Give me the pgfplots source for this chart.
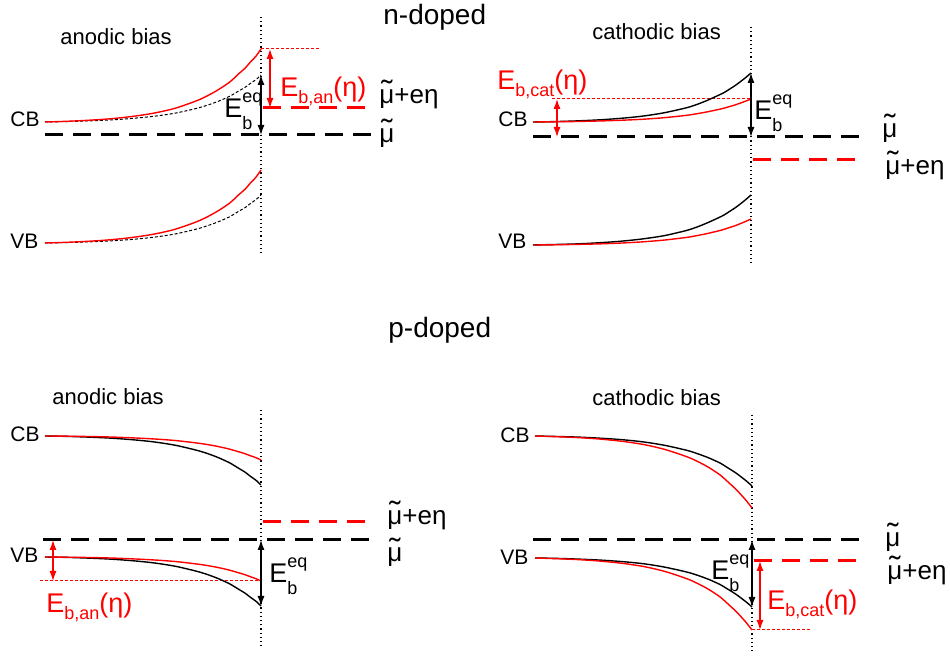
\documentclass[border=0pt]{standalone}
\usepackage{pgfplots}
\pgfplotsset{compat=1.18}
\usepackage{graphicx}
\usepackage{fontspec}
\setmainfont{Liberation Sans}
\usetikzlibrary{arrows.meta}
\newcommand{\mut}{\ooalign{μ\cr\hidewidth\raisebox{1pt}{\scalebox{1.3}[1.15]{˜}}\hidewidth\cr}}
\newcommand{\fs}[1]{\fontsize{#1}{#1}\selectfont}
\newcommand{\Ebeq}{E\rlap{\raisebox{7.5pt}{\fs{9pt}eq}}\raisebox{-6pt}{\fs{9pt}b}}
\newcommand{\Eb}[1]{E\raisebox{-3.5pt}{\fs{9pt}#1}(η)}
\tikzset{
  dbl/.style={line width=0.6pt,arrows={Latex[length=5pt,width=3.5pt]-Latex[length=5pt,width=3.5pt]}},
  fermi/.style={line width=1.5pt,dash pattern=on 9pt off 5pt},
  vdot/.style={line width=0.6pt,dash pattern=on 0.6pt off 1.5pt},
  rdot/.style={red,line width=0.5pt,dash pattern=on 1.5pt off 1pt},
  band/.style={line width=0.7pt,smooth},
  bdash/.style={black,line width=0.5pt,smooth,dash pattern=on 1.5pt off 1pt},
  lab/.style={anchor=base west,inner sep=0pt,font=\fs{10.5pt}},
  bias/.style={anchor=base west,inner sep=0pt,font=\fs{11pt}},
  big/.style={anchor=base west,inner sep=0pt,font=\fs{13.5pt}},
  mu/.style={anchor=base west,inner sep=0pt,font=\fs{13pt}},
}
\begin{document}
\begin{tikzpicture}
\begin{axis}[width=475pt,height=328.5pt,scale only axis,
  xmin=0,xmax=950,ymin=0,ymax=657,y dir=reverse,
  axis lines=none,clip=false]
\addplot[draw=none] coordinates {(0,0) (950,657)};
% ---------------- Panel 1: n-doped anodic
\addplot[vdot] coordinates {(261,17) (261,255)};
\addplot[fermi,black] coordinates {(45,135) (372,135)};
\addplot[fermi,red] coordinates {(263,108) (372,108)};
\addplot[rdot] coordinates {(261,49) (320,49)};
\addplot[bdash] coordinates {(45,122) (67,121.6) (88,120.9) (110,120.0) (131,118.5) (153,116.4) (175,113.2) (196,108.5) (207,105.3) (218,101.4) (229,96.6) (234,93.8) (239,90.8) (245,87.4) (250,83.7) (256,79.6) (261,75)};
\addplot[band,red] coordinates {(45,122) (67,121.3) (88,120.3) (110,118.8) (131,116.6) (153,113.3) (175,108.3) (196,101.0) (207,96.0) (218,89.9) (229,82.6) (234,78.3) (239,73.5) (245,68.3) (250,62.5) (256,56.1) (261,49)};
\addplot[bdash] coordinates {(45,243) (67,242.6) (88,241.9) (110,240.9) (131,239.5) (153,237.3) (175,234.0) (196,229.2) (207,225.9) (218,221.9) (229,217.1) (234,214.2) (239,211.1) (245,207.7) (250,203.9) (256,199.6) (261,195)};
\addplot[band,red] coordinates {(45,243) (67,242.3) (88,241.3) (110,239.8) (131,237.6) (153,234.3) (175,229.3) (196,222.0) (207,217.0) (218,210.9) (229,203.6) (234,199.3) (239,194.5) (245,189.3) (250,183.5) (256,177.1) (261,170)};
\addplot[dbl,red] coordinates {(270,49) (270,108)};
\addplot[dbl,black] coordinates {(261,75) (261,135)};
\node[anchor=base west,inner sep=0pt,font=\fs{14pt}] at (axis cs:383,25) {n-doped};
\node[bias] at (axis cs:60,45) {anodic bias};
\node[lab] at (axis cs:10,127) {CB};
\node[lab] at (axis cs:10,249) {VB};
\node[big,red] at (axis cs:280,97) {\Eb{b,an}};
\node[big] at (axis cs:224,118) {\Ebeq};
\node[mu] at (axis cs:379,104) {\mut+eη};
\node[mu] at (axis cs:379,143) {\mut};
% ---------------- Panel 2: n-doped cathodic
\addplot[vdot] coordinates {(751,27) (751,263)};
\addplot[fermi,black] coordinates {(533,137) (862,137)};
\addplot[fermi,red] coordinates {(753,160) (862,160)};
\addplot[rdot] coordinates {(552,99) (751,99)};
\addplot[band,black] coordinates {(533,122) (554.8,121.6) (577,120.9) (598.4,119.9) (620,118.4) (642,116.2) (664,112.8) (686,107.9) (696.5,104.6) (707,100.5) (718,95.5) (724,92.6) (729,89.5) (734.6,85.9) (740,82.0) (745.5,77.7) (751,73)};
\addplot[band,red] coordinates {(533,122) (554.8,121.8) (577,121.5) (598.4,121.0) (620,120.3) (642,119.3) (664,117.7) (686,115.4) (696.5,113.8) (707,111.9) (718,109.6) (724,108.2) (729,106.7) (734.6,105.1) (740,103.2) (745.5,101.2) (751,99)};
\addplot[band,black] coordinates {(533,245) (554.8,244.5) (577,243.9) (598.4,242.8) (620,241.3) (642,239.0) (664,235.7) (686,230.6) (696.5,227.2) (707,223.0) (718,218.0) (724,215.0) (729,211.8) (734.6,208.2) (740,204.2) (745.5,199.8) (751,195)};
\addplot[band,red] coordinates {(533,245) (554.8,244.8) (577,244.4) (598.4,243.9) (620,243.1) (642,241.9) (664,240.1) (686,237.5) (696.5,235.7) (707,233.6) (718,231.0) (724,229.4) (729,227.7) (734.6,225.9) (740,223.8) (745.5,221.5) (751,219)};
\addplot[dbl,red] coordinates {(557,99) (557,137)};
\addplot[dbl,black] coordinates {(751,73) (751,137)};
\node[bias] at (axis cs:592,40) {cathodic bias};
\node[lab] at (axis cs:498,127) {CB};
\node[lab] at (axis cs:498,249) {VB};
\node[big,red] at (axis cs:497,90) {\Eb{b,cat}};
\node[big] at (axis cs:754,120) {\Ebeq};
\node[mu] at (axis cs:882,138) {\mut};
\node[mu] at (axis cs:885,175) {\mut+eη};
% ---------------- Panel 3: p-doped anodic
\addplot[vdot] coordinates {(261,410) (261,647)};
\addplot[fermi,red] coordinates {(263,522) (372,522)};
\addplot[fermi,black] coordinates {(43,540) (372,540)};
\addplot[rdot] coordinates {(40,581) (261,581)};
\addplot[band,black] coordinates {(45,436) (67,436.4) (88,437.1) (110,438.1) (131,439.6) (153,441.8) (175,445.2) (196,450.1) (207,453.4) (218,457.5) (229,462.5) (234,465.4) (239,468.5) (245,472.1) (250,476.0) (256,480.3) (261,485)};
\addplot[band,red] coordinates {(45,436) (67,436.2) (88,436.5) (110,437.0) (131,437.8) (153,438.9) (175,440.5) (196,442.9) (207,444.5) (218,446.5) (229,449.0) (234,450.4) (239,451.9) (245,453.7) (250,455.6) (256,457.7) (261,460)};
\addplot[band,black] coordinates {(45,557) (67,557.4) (88,558.1) (110,559.1) (131,560.6) (153,562.8) (175,566.2) (196,571.1) (207,574.4) (218,578.5) (229,583.5) (234,586.4) (239,589.5) (245,593.1) (250,597.0) (256,601.3) (261,606)};
\addplot[band,red] coordinates {(45,557) (67,557.2) (88,557.5) (110,558.0) (131,558.8) (153,559.9) (175,561.5) (196,563.9) (207,565.5) (218,567.5) (229,570.0) (234,571.4) (239,572.9) (245,574.7) (250,576.6) (256,578.7) (261,581)};
\addplot[dbl,red] coordinates {(53,540) (53,581)};
\addplot[dbl,black] coordinates {(261,540) (261,606)};
\node[anchor=base west,inner sep=0pt,font=\fs{14pt}] at (axis cs:388,338) {p-doped};
\node[bias] at (axis cs:52,405) {anodic bias};
\node[lab] at (axis cs:10,442) {CB};
\node[lab] at (axis cs:10,563) {VB};
\node[big,red] at (axis cs:46,613) {\Eb{b,an}};
\node[big] at (axis cs:269,583) {\Ebeq};
\node[mu] at (axis cs:387,525) {\mut+eη};
\node[mu] at (axis cs:387,562) {\mut};
% ---------------- Panel 4: p-doped cathodic
\addplot[vdot] coordinates {(752,415) (752,653)};
\addplot[fermi,black] coordinates {(533,540) (863,540)};
\addplot[fermi,red] coordinates {(754,561) (863,561)};
\addplot[rdot] coordinates {(752,630) (810,630)};
\addplot[band,black] coordinates {(535,436) (556.7,436.5) (578,437.1) (600.1,438.2) (622,439.7) (644,442.0) (665,445.4) (687,450.4) (697.8,453.8) (709,458.0) (720,463.0) (724.9,466.0) (730,469.2) (735.7,472.8) (741,476.8) (746.6,481.2) (752,486)};
\addplot[band,red] coordinates {(535,436) (556.7,436.7) (578,437.6) (600.1,439.1) (622,441.3) (644,444.6) (665,449.5) (687,456.8) (697.8,461.6) (709,467.6) (720,474.9) (724.9,479.1) (730,483.8) (735.7,489.0) (741,494.7) (746.6,501.0) (752,508)};
\addplot[band,black] coordinates {(535,558) (556.7,558.4) (578,559.1) (600.1,560.1) (622,561.6) (644,563.8) (665,567.2) (687,572.1) (697.8,575.4) (709,579.5) (720,584.5) (724.9,587.4) (730,590.5) (735.7,594.1) (741,598.0) (746.6,602.3) (752,607)};
\addplot[band,red] coordinates {(535,558) (556.7,558.7) (578,559.6) (600.1,561.1) (622,563.3) (644,566.6) (665,571.5) (687,578.8) (697.8,583.6) (709,589.6) (720,596.9) (724.9,601.1) (730,605.8) (735.7,611.0) (741,616.7) (746.6,623.0) (752,630)};
\addplot[dbl,red] coordinates {(760,561) (760,630)};
\addplot[dbl,black] coordinates {(752,540) (752,607)};
\node[bias] at (axis cs:592,406) {cathodic bias};
\node[lab] at (axis cs:500,443) {CB};
\node[lab] at (axis cs:500,565) {VB};
\node[big,red] at (axis cs:767,610) {\Eb{b,cat}};
\node[big] at (axis cs:711,580) {\Ebeq};
\node[mu] at (axis cs:885,547) {\mut};
\node[mu] at (axis cs:887,580) {\mut+eη};
\end{axis}
\end{tikzpicture}
\end{document}
